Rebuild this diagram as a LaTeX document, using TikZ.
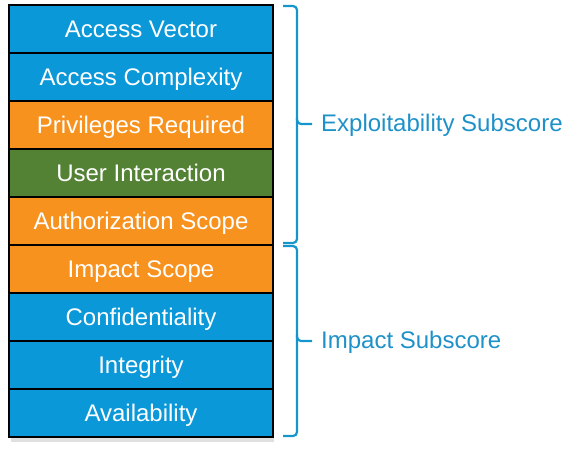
\documentclass[tikz,border=0pt]{standalone}
\usepackage{fontspec}
\setmainfont{Liberation Sans}
\definecolor{cvblue}{RGB}{10,152,217}
\definecolor{cvorange}{RGB}{247,146,30}
\definecolor{cvgreen}{RGB}{84,130,53}
\definecolor{cvlabel}{RGB}{30,145,200}
\definecolor{cvbrace}{RGB}{20,150,205}
\begin{document}
\begin{tikzpicture}[x=1pt,y=-1pt,
  metric/.style={draw=black, line width=2.2pt, minimum width=264pt, minimum height=48pt,
    inner sep=0pt, text=white, font=\fontsize{24}{26}\selectfont,
    text height=17.2pt, text depth=0pt},
  bluebox/.style={metric, fill=cvblue},
  orangebox/.style={metric, fill=cvorange},
  greenbox/.style={metric, fill=cvgreen},
  bracepath/.style={draw=cvbrace, line width=2.2pt, rounded corners=4pt},
  grouplabel/.style={text=cvlabel, font=\fontsize{24}{26}\selectfont, anchor=base west, inner sep=0pt}]
\useasboundingbox (0,0) rectangle (578,453);
\fill[black!12] (11,436) rectangle (274,442);
\node[bluebox]   (av) at (141,29)  {Access Vector};
\node[bluebox]   (ac) at (141,77)  {Access Complexity};
\node[orangebox] (pr) at (141,125) {Privileges Required};
\node[greenbox]  (ui) at (141,173) {User Interaction};
\node[orangebox] (as) at (141,221) {Authorization Scope};
\node[orangebox] (is) at (141,269) {Impact Scope};
\node[bluebox]   (co) at (141,317) {Confidentiality};
\node[bluebox]   (in) at (141,365) {Integrity};
\node[bluebox]   (va) at (141,413) {Availability};
% braces
\coordinate (e1) at (283,6);
\coordinate (e2) at (283,243);
\coordinate (etip) at (312,124);
\draw[bracepath] (e1) -- (297,6) -- (297,124) -- (etip);
\draw[bracepath] (297,118) -- (297,243) -- (e2);
\coordinate (i1) at (283,246);
\coordinate (i2) at (283,436);
\coordinate (itip) at (312,341);
\draw[bracepath] (i1) -- (297,246) -- (297,341) -- (itip);
\draw[bracepath] (297,335) -- (297,436) -- (i2);
\node[grouplabel] (expl) at (321,131) {Exploitability Subscore};
\node[grouplabel] (imp) at (321,348) {Impact Subscore};
\end{tikzpicture}
\end{document}
